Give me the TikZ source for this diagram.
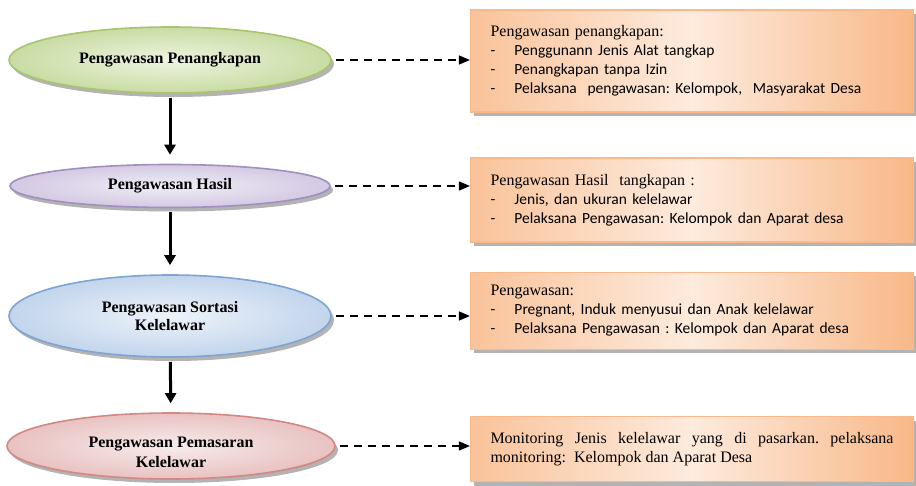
\documentclass[tikz,border=0pt]{standalone}
\usepackage{fontspec}
\setmainfont{Liberation Serif}
\newfontfamily\calibri{Carlito}
\usetikzlibrary{shapes.geometric,shadows,arrows.meta}
\frenchspacing

\definecolor{greenline}{HTML}{A9C46E}
\definecolor{greenfill}{HTML}{C9DCA3}
\definecolor{greenlight}{HTML}{EEF4E1}
\definecolor{purpleline}{HTML}{A18FC0}
\definecolor{purplefill}{HTML}{D3C9E3}
\definecolor{purplelight}{HTML}{F1EEF6}
\definecolor{blueline}{HTML}{7FA3D2}
\definecolor{bluefill}{HTML}{C2D5EC}
\definecolor{bluelight}{HTML}{EDF3FA}
\definecolor{redline}{HTML}{D28884}
\definecolor{redfill}{HTML}{E8C2C1}
\definecolor{redlight}{HTML}{F8ECEC}
\definecolor{boxline}{HTML}{F9B98A}
\definecolor{boxdark}{HTML}{F8B888}
\definecolor{boxlight}{HTML}{FDEBDD}

\newcommand{\dashitem}[1]{{\calibri\fontsize{15.5}{19}\selectfont\makebox[24pt][l]{-}#1}}

\tikzset{
  stage/.style={ellipse, line width=1.6pt, align=center,
    font=\bfseries\fontsize{16}{18}\selectfont,
    drop shadow={opacity=0.6, shadow xshift=3pt, shadow yshift=-4pt}},
  stagetext/.style={align=center, font=\bfseries\fontsize{16}{20}\selectfont},
  infobox/.style={rectangle, draw=boxline, line width=1.2pt,
    minimum width=443pt, text width=403pt, inner xsep=20pt,
    left color=boxdark!85, right color=boxdark, middle color=boxlight,
    font=\fontsize{16}{19}\selectfont, align=left,
    drop shadow={opacity=0.6, shadow xshift=3pt, shadow yshift=-4pt}},
  flowarrow/.style={line width=3pt, -{Triangle[length=10pt,width=11pt]},
    shorten <=4pt, shorten >=9pt},
  linkarrow/.style={line width=1.4pt, dash pattern=on 8pt off 6pt,
    -{Triangle[length=11pt,width=9pt]}, shorten <=4pt}
}

\begin{document}
\begin{tikzpicture}[x=1pt, y=-1pt]
    \useasboundingbox (0,0) rectangle (916,486);

    % stages (ellipses)
    \node[stage, draw=greenline, inner color=greenlight, outer color=greenfill,
      minimum width=322pt, minimum height=66pt] (hunt) at (170,60)
      {Pengawasan Penangkapan};
    \node[stage, draw=purpleline, inner color=purplelight, outer color=purplefill,
      minimum width=320pt, minimum height=43pt] (catch) at (170,186)
      {Pengawasan Hasil};
    \node[stage, draw=blueline, inner color=bluelight, outer color=bluefill,
      minimum width=322pt, minimum height=82pt] (sort) at (170,316)
      {Pengawasan Sortasi\\Kelelawar};
    \node[stage, draw=redline, inner color=redlight, outer color=redfill,
      minimum width=328pt, minimum height=66pt] (market) at (171,446) {};
    \node[stagetext] (markettext) at ([yshift=-6pt]market.center)
      {Pengawasan Pemasaran\\Kelelawar};

    % info boxes
    \node[infobox, minimum height=102pt] (huntbox) at (692,61) {%
      Pengawasan penangkapan:\\
      \dashitem{Penggunann Jenis Alat tangkap}\\
      \dashitem{Penangkapan tanpa Izin}\\
      \dashitem{Pelaksana\ \ pengawasan: Kelompok,\ \ Masyarakat Desa}};
    \node[infobox, minimum height=84pt] (catchbox) at (692,200) {%
      Pengawasan Hasil\ \ tangkapan :\\
      \dashitem{Jenis, dan ukuran kelelawar}\\
      \dashitem{Pelaksana Pengawasan: Kelompok dan Aparat desa}};
    \node[infobox, minimum height=77pt] (sortbox) at (692,311) {%
      Pengawasan:\\
      \dashitem{Pregnant, Induk menyusui dan Anak kelelawar}\\
      \dashitem{Pelaksana Pengawasan : Kelompok dan Aparat desa}};
    \node[infobox, minimum height=65pt, align=justify] (marketbox) at (692,449) {%
      Monitoring Jenis kelelawar yang di pasarkan. pelaksana\linebreak
      monitoring:\ \ Kelompok dan Aparat Desa};

    % flow down
    \draw[flowarrow] (hunt) -- (catch);
    \draw[flowarrow] (catch) -- (sort);
    \draw[flowarrow] (sort) -- (market);

    % dashed links
    \draw[linkarrow] (hunt.east) -- (hunt.east -| huntbox.west);
    \draw[linkarrow] (catch.east) -- (catch.east -| catchbox.west);
    \draw[linkarrow] (sort.east) -- (sort.east -| sortbox.west);
    \draw[linkarrow] (market.east) -- (market.east -| marketbox.west);
\end{tikzpicture}
\end{document}
